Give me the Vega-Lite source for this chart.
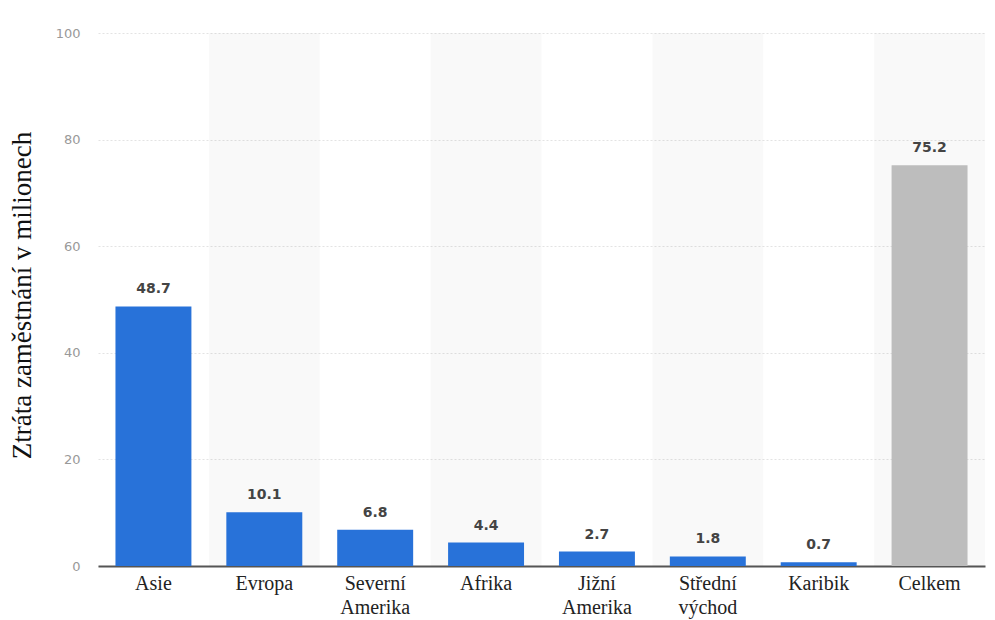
{
  "$schema": "https://vega.github.io/schema/vega-lite/v6.json",
  "width": 887,
  "height": 533,
  "autosize": "none",
  "padding": {"left": 98, "top": 33, "right": 10, "bottom": 54},
  "background": "white",
  "config": {"view": {"stroke": null}, "axisY": {"grid": true, "gridColor": "#e3e3e3", "gridDash": [2, 2], "gridWidth": 1}},
  "data": {
    "values": [
      {"region": "Asie", "value": 48.7, "group": "region"},
      {"region": "Evropa", "value": 10.1, "group": "region"},
      {"region": "Severní Amerika", "value": 6.8, "group": "region"},
      {"region": "Afrika", "value": 4.4, "group": "region"},
      {"region": "Jižní Amerika", "value": 2.7, "group": "region"},
      {"region": "Střední východ", "value": 1.8, "group": "region"},
      {"region": "Karibik", "value": 0.7, "group": "region"},
      {"region": "Celkem", "value": 75.2, "group": "total"}
    ]
  },
  "encoding": {
    "x": {
      "field": "region",
      "type": "nominal",
      "sort": ["Asie", "Evropa", "Severní Amerika", "Afrika", "Jižní Amerika", "Střední východ", "Karibik", "Celkem"],
      "scale": {"paddingInner": 0, "paddingOuter": 0},
      "axis": {
        "title": null,
        "labelAngle": 0,
        "labelFont": "Liberation Serif",
        "labelFontSize": 20,
        "labelColor": "#222",
        "labelPadding": 7,
        "labelLineHeight": 24,
        "labelExpr": "split(datum.label, ' ')",
        "ticks": false,
        "domain": true,
        "domainColor": "#555",
        "domainWidth": 2,
        "grid": false
      }
    }
  },
  "layer": [
    {
      "transform": [{"filter": {"field": "region", "oneOf": ["Evropa", "Afrika", "Střední východ", "Celkem"]}}],
      "mark": {"type": "bar", "color": "#000", "opacity": 0.025, "width": {"band": 1}},
      "encoding": {
        "y": {"datum": 100, "type": "quantitative"},
        "y2": {"datum": 0}
      }
    },
    {
      "mark": {"type": "bar", "width": {"band": 0.685}},
      "encoding": {
        "y": {
          "field": "value",
          "type": "quantitative",
          "scale": {"domain": [0, 100]},
          "axis": {
            "title": "Ztráta zaměstnání v milionech",
            "titleFont": "Liberation Serif",
            "titleFontSize": 27,
            "titleFontWeight": "normal",
            "titleColor": "#111",
            "titleAngle": -90,
            "titleX": -76,
            "titleY": 262,
            "titleAlign": "center",
            "titleBaseline": "middle",
            "values": [0, 20, 40, 60, 80, 100],
            "labelFont": "DejaVu Sans",
            "labelFontSize": 13,
            "labelColor": "#999",
            "labelPadding": 18,
            "ticks": false,
            "domain": false,
            "grid": true,
            "gridColor": "#e3e3e3",
            "gridDash": [2, 2],
            "gridWidth": 1
          }
        },
        "color": {
          "field": "group",
          "type": "nominal",
          "scale": {"domain": ["region", "total"], "range": ["#2872d9", "#bdbdbd"]},
          "legend": null
        }
      }
    },
    {
      "mark": {"type": "text", "dy": -10, "font": "DejaVu Sans", "fontWeight": "bold", "fontSize": 14, "color": "#444", "baseline": "bottom"},
      "encoding": {
        "y": {"field": "value", "type": "quantitative"},
        "text": {"field": "value", "type": "quantitative", "format": ".1f"}
      }
    }
  ]
}
